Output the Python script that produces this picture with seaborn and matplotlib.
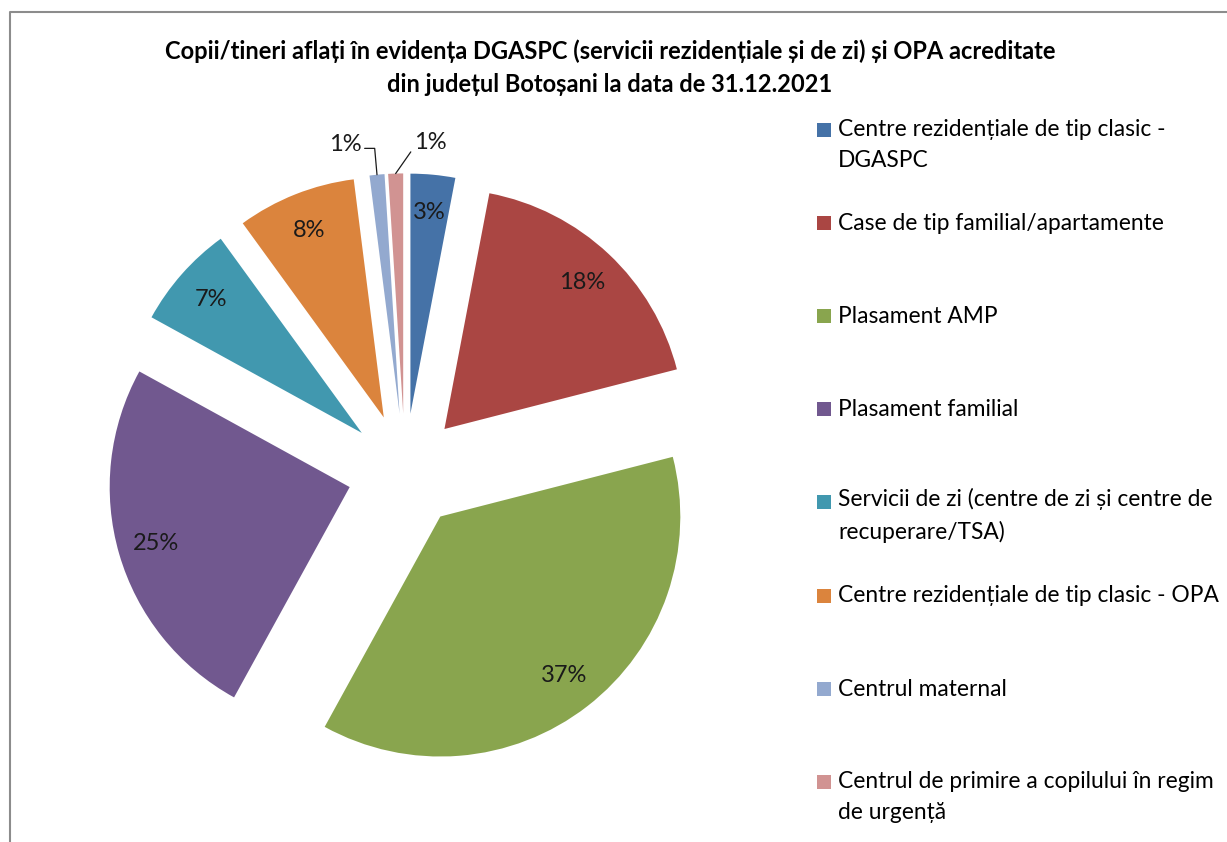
import matplotlib
matplotlib.use("Agg")
import matplotlib.pyplot as plt
import seaborn as sns
import numpy as np
from matplotlib.patches import Rectangle
from matplotlib.lines import Line2D

# ---- data ----
categories = [
    "Centre rezidențiale de tip clasic - DGASPC",
    "Case de tip familial/apartamente",
    "Plasament AMP",
    "Plasament familial",
    "Servicii de zi (centre de zi și centre de recuperare/TSA)",
    "Centre rezidențiale de tip clasic - OPA",
    "Centrul maternal",
    "Centrul de primire a copilului în regim de urgență",
]
legend_labels = [
    "Centre rezidențiale de tip clasic -\nDGASPC",
    "Case de tip familial/apartamente",
    "Plasament AMP",
    "Plasament familial",
    "Servicii de zi (centre de zi și centre de\nrecuperare/TSA)",
    "Centre rezidențiale de tip clasic - OPA",
    "Centrul maternal",
    "Centrul de primire a copilului în regim\nde urgență",
]
shares = [3, 18, 37, 25, 7, 8, 1, 1]
colors = ["#4572A7", "#AA4643", "#89A54E", "#71588F",
          "#4198AF", "#DB843D", "#93A9CF", "#D19392"]
title = ("Copii/tineri aflați în evidența DGASPC (servicii rezidențiale și de zi) și OPA acreditate\n"
         "din județul Botoșani la data de 31.12.2021")

sns.set_theme(style="white")
plt.rcParams["font.family"] = ["Lato", "DejaVu Sans"]

W, H = 1227, 842
fig = plt.figure(figsize=(W / 100, H / 100), dpi=100)

# pie axes: centre and radius in pixels
cx, cy, R = 405, 471, 240
L = 1.45
S = 2 * L * R
ax = fig.add_axes([(cx - S / 2) / W, (H - cy - S / 2) / H, S / W, S / H])
wedges, texts, autotexts = ax.pie(
    shares, colors=sns.color_palette(colors), startangle=90, counterclock=False,
    explode=[0.24] * len(shares), autopct="%.0f%%", pctdistance=0.84,
    textprops=dict(fontsize=17, color="#1a1a1a"),
    wedgeprops=dict(linewidth=0),
)
ax.set_xlim(-L, L)
ax.set_ylim(-L, L)
ax.set_aspect("auto")
ax.axis("off")

# small slices: labels outside with leader lines
for i, w in enumerate(wedges):
    if shares[i] <= 1:
        autotexts[i].set_visible(False)
        th = np.deg2rad((w.theta1 + w.theta2) / 2)
        xy = (w.center[0] + w.r * np.cos(th), w.center[1] + w.r * np.sin(th))
        left = np.cos(th) < -0.06
        ax.annotate(
            f"{shares[i]:.0f}%", xy=xy,
            xytext=(-23 if left else 25, 22), textcoords="offset points",
            ha="center", va="center", fontsize=17, color="#1a1a1a",
            arrowprops=dict(
                arrowstyle="-", color="#1a1a1a", lw=0.9, shrinkA=0, shrinkB=0,
                relpos=(1, 0.3) if left else (0, 0.3),
                connectionstyle="angle,angleA=0,angleB=95" if left else "arc3",
            ),
        )

# title
fig.text(0.497, 1 - 67.5 / H, title, ha="center", va="center",
         fontsize=17, fontweight="bold", color="#000000", linespacing=1.5)

# legend (manual, evenly spaced by first line)
line_h = 30
for i, lab in enumerate(legend_labels):
    y = 130 + i * 93.1
    n_extra = lab.count("\n")
    fig.add_artist(Rectangle((817 / W, 1 - (y + 7) / H), 14 / W, 14 / H,
                             transform=fig.transFigure, color=colors[i], lw=0))
    fig.text(838 / W, 1 - (y + 7 + n_extra * line_h) / H, lab, ha="left",
             va="baseline", fontsize=16.4, color="#000000", linespacing=1.6)

# chart-area border (top and left)
fig.add_artist(Line2D([10 / W, 10 / W, 1], [0, 1 - 12 / H, 1 - 12 / H],
                      transform=fig.transFigure, color="#8c8c8c", lw=1.5))

fig.savefig("out.png", dpi=100, facecolor="white")
